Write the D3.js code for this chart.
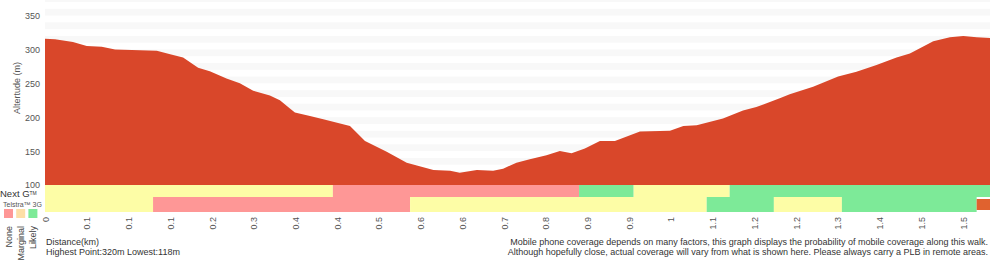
<!DOCTYPE html>
<html>
<head>
<meta charset="utf-8">
<script src="https://cdn.jsdelivr.net/npm/d3@7"></script>
<style>
  body { margin: 0; background: #fff; }
  svg { font-family: "Liberation Sans", Arial, Helvetica, sans-serif; }
  .axis text { fill: #555; font-size: 9px; }
  .axis path, .axis line { display: none; }
</style>
</head>
<body>
<svg id="chart"></svg>
<script>
// x positions are in tick steps (one step per distance label)
const tickLabels = ['0','0.1','0.1','0.1','0.2','0.3','0.4','0.4','0.5','0.6','0.6','0.7',
  '0.8','0.9','0.9','1','1.1','1.2','1.2','1.3','1.4','1.5','1.5'];
const altTicks = [100, 150, 200, 250, 300, 350];

const profileStep = [0, 0.24, 0.67, 1.0, 1.36, 1.68, 2.28, 2.68, 3.0, 3.31, 3.67, 3.95, 4.35, 4.67,
  4.99, 5.39, 5.63, 5.87, 5.99, 6.35, 6.67, 7.31, 7.67, 8.19, 8.67, 9.31, 9.71, 9.94, 10.35, 10.74,
  10.98, 11.3, 11.62, 12.02, 12.34, 12.62, 12.94, 13.3, 13.66, 14.26, 14.98, 15.3, 15.62, 16.25,
  16.73, 17.05, 17.61, 17.85, 18.41, 19.01, 19.45, 19.93, 20.41, 20.73, 21.29, 21.69, 22.01, 22.33, 22.65];
const profileAlt = [316, 315, 311, 305, 304, 300, 299, 298, 293, 288, 273, 268, 257, 250,
  239, 232, 225, 213, 207, 202, 197, 187, 165, 149, 133, 122, 121, 118, 122, 121,
  124, 133, 138, 144, 150, 147, 154, 165, 165, 179, 180, 187, 188, 198,
  210, 215, 228, 234, 245, 260, 267, 277, 288, 294, 312, 318, 320, 318, 317];

const nextGBreaks = [0, 6.9, 12.8, 14.11, 16.41, 22.65];
const nextGLevels = ['Marginal', 'None', 'Likely', 'Marginal', 'Likely'];
const threeGBreaks = [0, 2.59, 8.75, 15.86, 17.47, 19.1, 22.33, 22.65];
const threeGLevels = ['Marginal', 'None', 'Marginal', 'Likely', 'Marginal', 'Likely', 'Unknown'];

const legendLevels = ['None', 'Marginal', 'Likely'];

const levelColor = { None: '#fe9796', Marginal: '#fdfda6', Likely: '#7dea98', Unknown: '#e0622f' };
const legendColor = { None: '#fe9796', Marginal: '#fddfa6', Likely: '#7dea98' };

const width = 1000, height = 260;
const svg = d3.select('#chart').attr('width', width).attr('height', height);

const x = d3.scaleLinear().domain([0, 22.65]).range([45, 990]);
const y = d3.scaleLinear().domain([100, 373]).range([185, 0]);

// alternating background bands every 10 m
const bands = d3.range(110, 380, 20);
svg.append('g').selectAll('rect')
  .data(bands)
  .join('rect')
    .attr('x', x(0))
    .attr('width', x(22.65) - x(0))
    .attr('y', d => Math.max(0, y(d + 10)))
    .attr('height', d => y(d) - Math.max(0, y(d + 10)))
    .attr('fill', '#f8f8f8');

const profile = profileStep.map((s, i) => ({ s, alt: profileAlt[i] }));
const area = d3.area()
  .x(d => x(d.s))
  .y0(y(100))
  .y1(d => y(d.alt));

svg.append('path')
  .datum(profile)
  .attr('d', area)
  .attr('fill', '#d9472a');

// coverage rows
function segs(breaks, levels) {
  return levels.map((l, i) => ({ a: breaks[i], b: breaks[i + 1], level: l }));
}
const rows = [
  { data: segs(nextGBreaks, nextGLevels), top: 185, h: 12 },
  { data: segs(threeGBreaks, threeGLevels), top: 197, h: 15 }
];
rows.forEach(r => {
  svg.append('g').selectAll('rect')
    .data(r.data)
    .join('rect')
      .attr('x', d => x(d.a))
      .attr('width', d => x(d.b) - x(d.a))
      .attr('y', d => d.level === 'Unknown' ? r.top + 2 : r.top)
      .attr('height', d => d.level === 'Unknown' ? r.h - 4 : r.h)
      .attr('fill', d => levelColor[d.level]);
});

// y axis
const yAxis = d3.axisLeft(y).tickValues(altTicks).tickSize(0).tickPadding(5);
svg.append('g')
    .attr('class', 'axis')
    .attr('transform', `translate(${x(0)},0)`)
    .call(yAxis);

svg.append('text')
    .attr('transform', 'rotate(-90)')
    .attr('x', -88)
    .attr('y', 20)
    .style('text-anchor', 'middle')
    .style('font-size', '9px')
    .style('fill', '#555')
    .text('Altertude (m)');

// x axis with rotated labels
const xAxis = d3.axisBottom(x).tickValues(d3.range(tickLabels.length))
    .tickFormat(i => tickLabels[i]).tickSize(0);
svg.append('g')
    .attr('class', 'axis')
    .attr('transform', 'translate(0,212)')
    .call(xAxis)
  .selectAll('text')
    .attr('transform', 'rotate(-90)')
    .attr('x', -5)
    .attr('y', 0)
    .attr('dy', '0.35em')
    .style('text-anchor', 'end');

// row labels
const ng = svg.append('text')
    .attr('x', 0)
    .attr('y', 197)
    .style('font-size', '9.5px')
    .style('fill', '#333');
ng.append('tspan').text('Next G');
ng.append('tspan').attr('dy', -2.5).style('font-size', '5px').text('TM');

svg.append('text')
    .attr('x', 3)
    .attr('y', 206.5)
    .style('font-size', '7px')
    .style('fill', '#555')
    .text('Telstra™ 3G');

// legend
const legend = svg.append('g').selectAll('g')
  .data(legendLevels)
  .join('g')
    .attr('transform', (d, i) => `translate(${4 + i * 12.2},209)`);
legend.append('rect')
    .attr('width', 9)
    .attr('height', 9)
    .attr('fill', d => legendColor[d]);
legend.append('text')
    .attr('transform', 'rotate(-90)')
    .attr('x', -17)
    .attr('y', 4.5)
    .attr('dy', '0.35em')
    .style('text-anchor', 'end')
    .style('font-size', '9px')
    .style('fill', '#444')
    .text(d => d);

// footer text
svg.append('text')
    .attr('x', 46)
    .attr('y', 245)
    .style('font-size', '9px')
    .style('fill', '#333')
    .text('Distance(km)');
svg.append('text')
    .attr('x', 46)
    .attr('y', 255)
    .style('font-size', '9px')
    .style('fill', '#333')
    .text('Highest Point:320m Lowest:118m');

const notes = ['Mobile phone coverage depends on many factors, this graph displays the probability of mobile coverage along this walk.',
  'Although hopefully close, actual coverage will vary from what is shown here. Please always carry a PLB in remote areas.'];
svg.append('g').selectAll('text')
  .data(notes)
  .join('text')
    .attr('x', 988)
    .attr('y', (d, i) => 245 + i * 10)
    .style('text-anchor', 'end')
    .style('font-size', '9px')
    .style('fill', '#333')
    .text(d => d);
</script>
</body>
</html>
